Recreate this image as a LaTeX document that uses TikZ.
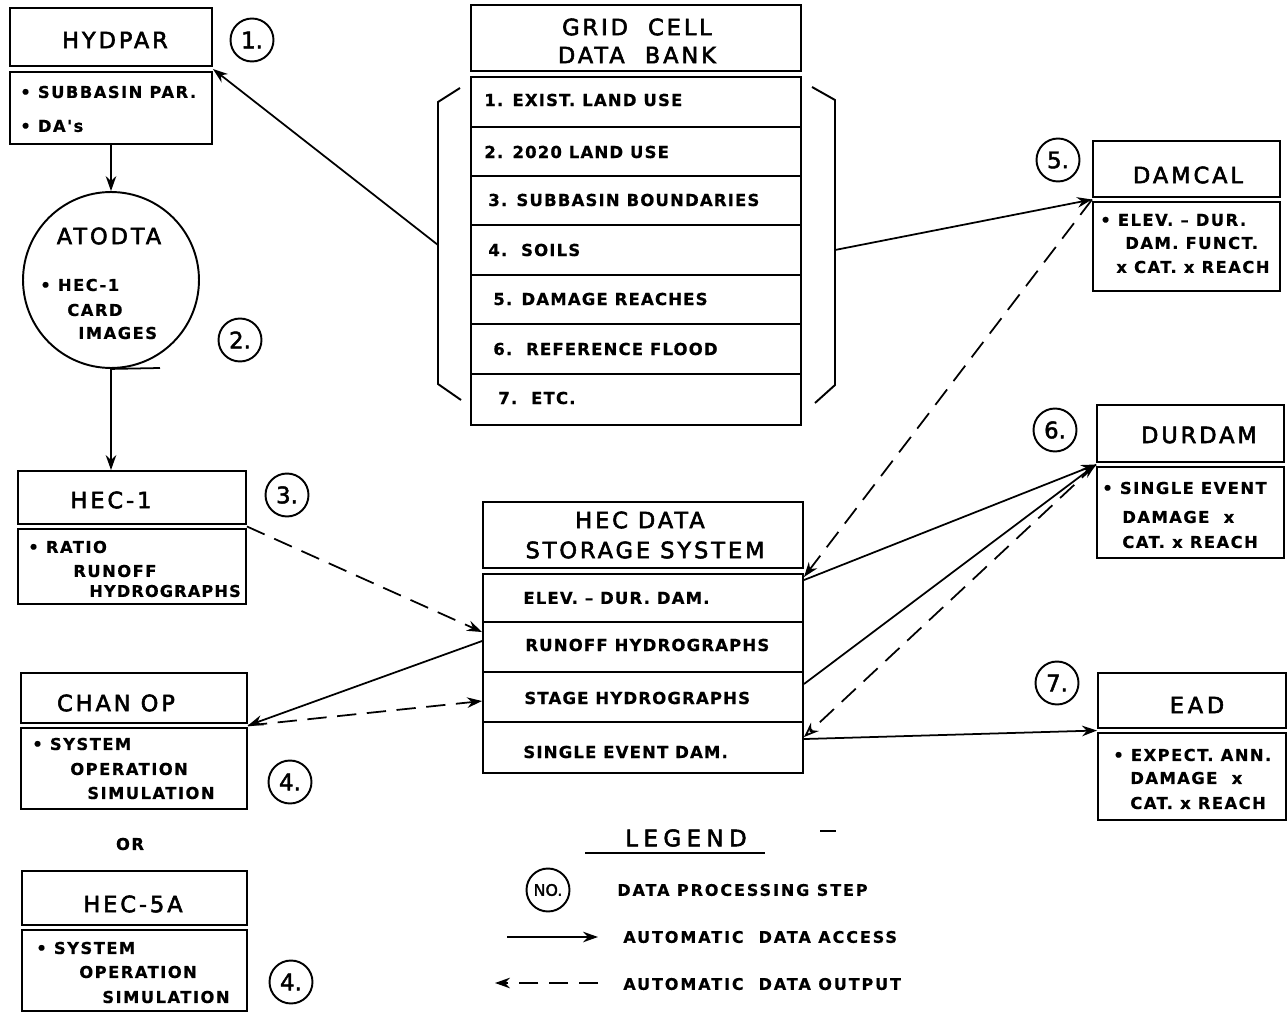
\documentclass[tikz,border=0pt]{standalone}
\usepackage{fontspec}
\setmainfont{DejaVu Sans}
\newfontfamily\ttlf{DejaVu Sans}[LetterSpace=13, FakeBold=2.5]
\newfontfamily\numf{DejaVu Sans}[FakeBold=2]
\newfontfamily\itmf{DejaVu Sans}[LetterSpace=9, FakeBold=0.6]
\newfontfamily\rowf{DejaVu Sans}[LetterSpace=7, FakeBold=0.6]
\newfontfamily\lgdf{DejaVu Sans}[LetterSpace=12, FakeBold=0.6]
\newfontfamily\lgtf{DejaVu Sans}[LetterSpace=24, FakeBold=2.5]
\usetikzlibrary{arrows.meta,fit,calc}
\begin{document}
\begin{tikzpicture}[x=0.02cm,y=-0.02cm,
  bx/.style={draw, line width=1.1pt, inner sep=0pt},
  ttl/.style={font=\ttlf\fontsize{12.8}{14}\selectfont, inner sep=0pt},
  it/.style={font=\itmf\bfseries\fontsize{9.3}{10}\selectfont, inner sep=0pt, anchor=west},
  rw/.style={font=\rowf\bfseries\fontsize{9.4}{10}\selectfont, inner sep=0pt, anchor=west},
  lg/.style={font=\lgdf\bfseries\fontsize{9.1}{10}\selectfont, inner sep=0pt, anchor=west},
  num/.style={circle, draw, line width=1.1pt, minimum size=0.86cm, inner sep=0pt, font=\numf\fontsize{13}{14}\selectfont},
  acc/.style={line width=1pt, -{Stealth[length=8.5pt,width=6pt]}},
  outp/.style={acc, dash pattern=on 11pt off 6pt},
  outo/.style={line width=1pt, dash pattern=on 11pt off 6pt, -{Stealth[open,length=8.5pt,width=6.5pt]}},
  lin/.style={line width=1.1pt}
]
\useasboundingbox (0,0) rectangle (1288,1013);

% ---------- HYDPAR ----------
\node[bx, fit={(10,8)(212,66)}] (hydT) {};
\node[bx, fit={(10,72)(212,144)}] (hydB) {};
\node[ttl] (hydt) at (115,40) {HYDPAR};
\node[it] (hyd1) at (20,92) {• SUBBASIN PAR.};
\node[it] (hyd2) at (20,126) {• DA's};
\node[num] (n1) at (252,40) {1.};

% ---------- ATODTA ----------
\node[circle, draw, line width=1.1pt, minimum size=3.52cm, inner sep=0pt] (atodta) at (111,280) {};
\node[ttl] (atot) at (109,236) {ATODTA};
\node[it] (ato1) at (40,285) {• HEC-1};
\node[it] (ato2) at (67,310) {CARD};
\node[it] (ato3) at (78,333) {IMAGES};
\node[num] (n2) at (240,340) {2.};
\coordinate (atick) at (160,368);
\draw[line width=1pt] (atodta.south) -- (atick);

% ---------- HEC-1 ----------
\node[bx, fit={(18,471)(246,524)}] (hecT) {};
\node[bx, fit={(18,529)(246,604)}] (hecB) {};
\node[ttl] (hect) at (111,500) {HEC-1};
\node[it] (hec1) at (28,547) {• RATIO};
\node[it] (hec2) at (73,571) {RUNOFF};
\node[rw, font=\rowf\bfseries\fontsize{9.2}{10}\selectfont] (hec3) at (89,591) {HYDROGRAPHS};
\node[num] (n3) at (287,495) {3.};

% ---------- CHAN OP ----------
\node[bx, fit={(21,673)(247,723)}] (chT) {};
\node[bx, fit={(21,728)(247,809)}] (chB) {};
\node[ttl] (cht) at (116,703) {CHAN OP};
\node[it] (ch1) at (32,744) {• SYSTEM};
\node[it] (ch2) at (70,769) {OPERATION};
\node[it] (ch3) at (87,793) {SIMULATION};
\node[num] (n4a) at (290,782) {4.};

\node[it, anchor=center] (or) at (130,844) {OR};

% ---------- HEC-5A ----------
\node[bx, fit={(22,871)(247,925)}] (h5T) {};
\node[bx, fit={(22,930)(247,1011)}] (h5B) {};
\node[ttl] (h5t) at (133,904) {HEC-5A};
\node[it] (h51) at (36,948) {• SYSTEM};
\node[it] (h52) at (79,972) {OPERATION};
\node[it] (h53) at (102,997) {SIMULATION};
\node[num] (n4b) at (291,982) {4.};

% ---------- GRID CELL DATA BANK ----------
\node[bx, fit={(471,5)(801,71)}] (gT) {};
\node[bx, fit={(471,77)(801,127)}] (g1) {};
\node[bx, fit={(471,127)(801,176)}] (g2) {};
\node[bx, fit={(471,176)(801,225)}] (g3) {};
\node[bx, fit={(471,225)(801,275)}] (g4) {};
\node[bx, fit={(471,275)(801,324)}] (g5) {};
\node[bx, fit={(471,324)(801,374)}] (g6) {};
\node[bx, fit={(471,374)(801,425)}] (g7) {};
\node[ttl] (gt1) at (637,27) {GRID\ \ CELL};
\node[ttl] (gt2) at (637,55) {DATA\ \ BANK};
\node[rw] (gr1) at (484,100) {1. EXIST. LAND USE};
\node[rw] (gr2) at (484,152) {2. 2020 LAND USE};
\node[rw] (gr3) at (488,200) {3. SUBBASIN BOUNDARIES};
\node[rw] (gr4) at (488,250) {4.\ \ SOILS};
\node[rw] (gr5) at (493,299) {5. DAMAGE REACHES};
\node[rw] (gr6) at (493,349) {6.\ \ REFERENCE FLOOD};
\node[rw] (gr7) at (498,398) {7.\ \ ETC.};
\draw[lin] (460,88) -- (438,102) -- (438,384) -- (461,400);
\draw[lin] (812,87) -- (835,100) -- (835,385) -- (815,403);
\coordinate (brL) at (438,245);
\coordinate (brR) at (835,250);

% ---------- HEC DATA STORAGE SYSTEM ----------
\node[bx, fit={(483,502)(803,568)}] (sT) {};
\node[bx, fit={(483,574)(803,622)}] (sR1) {};
\node[bx, fit={(483,622)(803,672)}] (sR2) {};
\node[bx, fit={(483,672)(803,722)}] (sR3) {};
\node[bx, fit={(483,722)(803,773)}] (sR4) {};
\node[ttl] (st1) at (640,520) {HEC DATA};
\node[ttl] (st2) at (645,550) {STORAGE SYSTEM};
\node[rw] (sr1) at (523,598) {ELEV. – DUR. DAM.};
\node[rw] (sr2) at (525,645) {RUNOFF HYDROGRAPHS};
\node[rw] (sr3) at (524,698) {STAGE HYDROGRAPHS};
\node[rw] (sr4) at (523,752) {SINGLE EVENT DAM.};

% ---------- DAMCAL ----------
\node[bx, fit={(1093,141)(1280,197)}] (dT) {};
\node[bx, fit={(1093,202)(1280,291)}] (dB) {};
\node[ttl] (dt) at (1188,175) {DAMCAL};
\node[it] (d1) at (1100,220) {• ELEV. – DUR.};
\node[it] (d2) at (1125,243) {DAM. FUNCT.};
\node[it] (d3) at (1116,267) {x CAT. x REACH};
\node[num] (n5) at (1058,160) {5.};

% ---------- DURDAM ----------
\node[bx, fit={(1097,405)(1284,462)}] (uT) {};
\node[bx, fit={(1097,467)(1284,558)}] (uB) {};
\node[ttl] (ut) at (1199,435) {DURDAM};
\node[it] (u1) at (1102,488) {• SINGLE EVENT};
\node[it] (u2) at (1122,517) {DAMAGE\ \ x};
\node[it] (u3) at (1122,542) {CAT. x REACH};
\node[num] (n6) at (1055,430) {6.};

% ---------- EAD ----------
\node[bx, fit={(1098,673)(1286,728)}] (eT) {};
\node[bx, fit={(1098,733)(1286,820)}] (eB) {};
\node[ttl] (et) at (1197,705) {E\,A\,D};
\node[it] (e1) at (1113,755) {• EXPECT. ANN.};
\node[it] (e2) at (1130,778) {DAMAGE\ \ x};
\node[it] (e3) at (1130,803) {CAT. x REACH};
\node[num] (n7) at (1057,683) {7.};

% ---------- corner points ----------
\coordinate (hydC) at ($(hydT.south east)!.5!(hydB.north east)$);
\coordinate (hecC) at ($(hecT.south east)!.5!(hecB.north east)$);
\coordinate (chC) at ($(chT.south east)!.5!(chB.north east)$);
\coordinate (dC) at ($(dT.south west)!.5!(dB.north west)$);
\coordinate (uC) at ($(uT.south west)!.5!(uB.north west)$);
\coordinate (eC) at ($(eT.south west)!.5!(eB.north west)$);

% ---------- connectors ----------
\draw[acc] (brL) -- (hydC);
\draw[acc] (hydB.south) -- (atodta.north);
\draw[acc] (atodta.south) -- (atodta.south |- hecT.north);
\draw[outp] (hecC) -- ($(sR2.north west)+(0,11)$);
\draw[acc] ($(sR2.north west)+(0,20)$) -- (chC);
\draw[outp] (chC) -- ($(sR3.north west)+(0,30)$);
\draw[acc] (brR) -- (dC);
\draw[outp] (dC) -- ($(sR1.north east)+(0,4)$);
\draw[acc] ($(sR1.north east)+(0,7)$) -- (uC);
\draw[acc] ($(sR3.north east)+(0,13)$) -- (uC);
\draw[outo] (uC) -- ($(sR4.north east)+(0,16)$);
\draw[acc] ($(sR4.north east)+(0,18)$) -- (eC);

% ---------- legend ----------
\node[font=\lgtf\fontsize{13}{14}\selectfont, inner sep=0pt] (leg) at (686,838) {LEGEND};
\draw[lin] (585,853) -- (765,853);
\draw[lin] (820,831) -- (836,831);
\node[num, font=\numf\fontsize{9}{10}\selectfont] (legno) at (548,890) {NO.};
\node[lg] (lg1) at (617,890) {DATA PROCESSING STEP};
\coordinate (la1) at (507,937);
\coordinate (la2) at (598,937);
\draw[acc] (la1) -- (la2);
\node[lg] (lg2) at (623,937) {AUTOMATIC\ \ DATA ACCESS};
\coordinate (lb1) at (598,983);
\coordinate (lb2) at (495,983);
\draw[outp] (lb1) -- (lb2);
\node[lg] (lg3) at (623,984) {AUTOMATIC\ \ DATA OUTPUT};
\end{tikzpicture}
\end{document}
